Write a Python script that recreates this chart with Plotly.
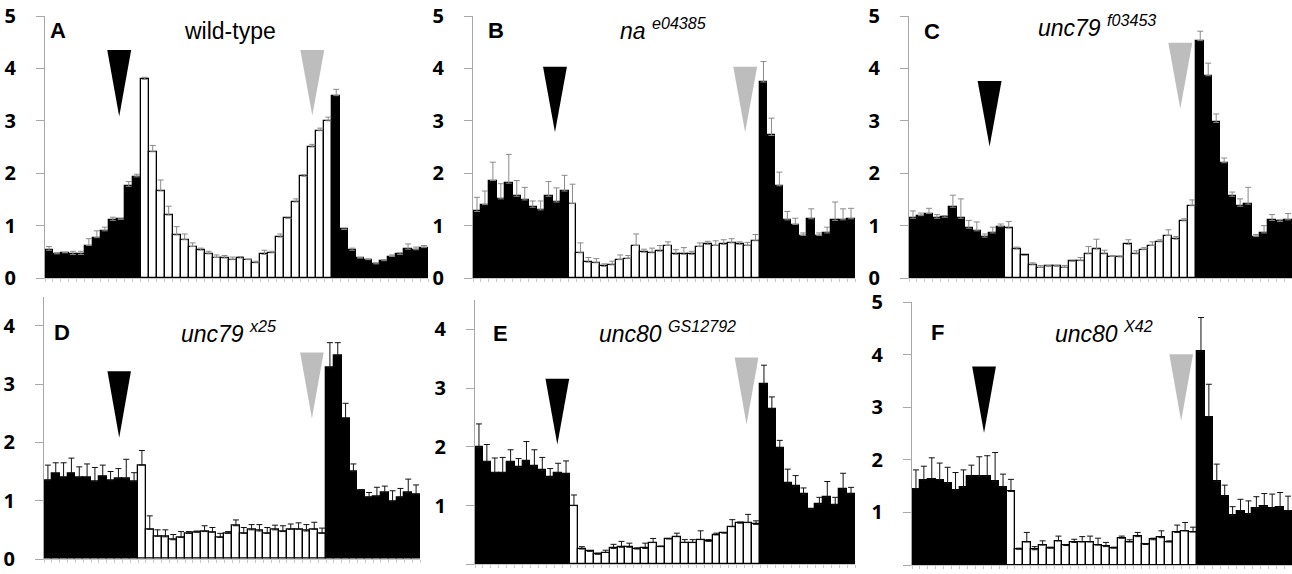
import plotly.graph_objects as go

W, H = 1292, 574

bins = list(range(1, 49))
phase = ["dark"] * 12 + ["light"] * 24 + ["dark"] * 12

panel_letters = ["A", "B", "C", "D", "E", "F"]
panel_titles = [
    "wild-type",
    "<i>na</i> <sup><i>e04385</i></sup>",
    "<i>unc79</i> <sup><i>f03453</i></sup>",
    "<i>unc79</i> <sup><i>x25</i></sup>",
    "<i>unc80</i> <sup><i>GS12792</i></sup>",
    "<i>unc80</i> <sup><i>X42</i></sup>",
]

vals_A = [0.53, 0.46, 0.48, 0.45, 0.45, 0.62, 0.77, 0.90, 1.10, 1.12, 1.75, 1.93,
          3.79, 2.41, 1.66, 1.20, 0.82, 0.73, 0.60, 0.53, 0.46, 0.39, 0.38, 0.35,
          0.38, 0.35, 0.29, 0.45, 0.48, 0.78, 1.14, 1.45, 1.94, 2.50, 2.81, 3.00,
          3.48, 0.93, 0.53, 0.38, 0.35, 0.27, 0.33, 0.41, 0.45, 0.55, 0.54, 0.58]
err_A = [0.07, 0.02, 0.01, 0.06, 0.06, 0.13, 0.13, 0.07, 0.06, 0.01, 0.09, 0.05,
         0.04, 0.12, 0.21, 0.17, 0.16, 0.11, 0.07, 0.04, 0.05, 0.05, 0.05, 0.05,
         0.03, 0.01, 0.03, 0.08, 0.03, 0.06, 0.00, 0.06, 0.03, 0.05, 0.05, 0.07,
         0.12, 0.00, 0.04, 0.01, 0.01, 0.02, 0.02, 0.03, 0.03, 0.10, 0.05, 0.04]

vals_B = [1.27, 1.40, 1.86, 1.51, 1.81, 1.56, 1.49, 1.35, 1.30, 1.56, 1.45, 1.66,
          1.42, 0.48, 0.30, 0.29, 0.22, 0.25, 0.35, 0.37, 0.62, 0.49, 0.48, 0.51,
          0.62, 0.45, 0.45, 0.45, 0.60, 0.64, 0.62, 0.64, 0.67, 0.64, 0.62, 0.71,
          3.74, 2.72, 1.76, 1.11, 1.02, 0.81, 1.13, 0.81, 0.86, 1.10, 1.11, 1.13]
err_B = [0.27, 0.26, 0.35, 0.29, 0.55, 0.30, 0.24, 0.12, 0.17, 0.28, 0.27, 0.30,
         0.37, 0.19, 0.09, 0.08, 0.05, 0.07, 0.09, 0.06, 0.22, 0.06, 0.09, 0.11,
         0.07, 0.09, 0.13, 0.06, 0.07, 0.06, 0.09, 0.09, 0.08, 0.05, 0.06, 0.12,
         0.39, 0.33, 0.26, 0.16, 0.12, 0.05, 0.19, 0.05, 0.11, 0.35, 0.21, 0.20]

vals_C = [1.14, 1.19, 1.23, 1.14, 1.16, 1.35, 1.14, 0.95, 0.90, 0.78, 0.86, 0.98,
          0.95, 0.55, 0.43, 0.25, 0.20, 0.22, 0.22, 0.20, 0.32, 0.33, 0.46, 0.55,
          0.46, 0.41, 0.40, 0.64, 0.46, 0.54, 0.62, 0.69, 0.81, 0.74, 1.09, 1.38,
          4.53, 3.86, 2.97, 2.20, 1.56, 1.37, 1.41, 0.79, 0.86, 1.10, 1.08, 1.11]
err_C = [0.14, 0.05, 0.10, 0.07, 0.03, 0.23, 0.37, 0.15, 0.17, 0.06, 0.11, 0.05,
         0.13, 0.04, 0.00, 0.04, 0.04, 0.02, 0.02, 0.04, 0.00, 0.06, 0.14, 0.19,
         0.07, 0.02, 0.02, 0.09, 0.06, 0.04, 0.07, 0.04, 0.11, 0.05, 0.04, 0.11,
         0.18, 0.24, 0.16, 0.09, 0.08, 0.14, 0.32, 0.04, 0.14, 0.11, 0.03, 0.12]

vals_D = [1.35, 1.46, 1.39, 1.47, 1.39, 1.39, 1.33, 1.42, 1.34, 1.38, 1.38, 1.33,
          1.61, 0.51, 0.39, 0.38, 0.33, 0.37, 0.44, 0.46, 0.47, 0.46, 0.37, 0.44,
          0.57, 0.44, 0.50, 0.48, 0.44, 0.50, 0.47, 0.51, 0.51, 0.48, 0.51, 0.44,
          3.28, 3.48, 2.40, 1.50, 1.17, 1.06, 1.07, 1.14, 0.99, 1.06, 1.14, 1.11]
err_D = [0.26, 0.19, 0.26, 0.26, 0.19, 0.24, 0.24, 0.19, 0.16, 0.17, 0.33, 0.15,
         0.25, 0.23, 0.11, 0.12, 0.09, 0.10, 0.03, 0.02, 0.10, 0.08, 0.07, 0.03,
         0.10, 0.10, 0.09, 0.11, 0.10, 0.08, 0.10, 0.09, 0.11, 0.11, 0.12, 0.09,
         0.43, 0.23, 0.27, 0.13, 0.02, 0.08, 0.16, 0.11, 0.18, 0.15, 0.23, 0.16]

vals_E = [1.99, 1.75, 1.56, 1.56, 1.75, 1.65, 1.76, 1.67, 1.60, 1.48, 1.56, 1.54,
          1.00, 0.26, 0.22, 0.17, 0.20, 0.27, 0.29, 0.29, 0.26, 0.27, 0.37, 0.30,
          0.43, 0.47, 0.37, 0.37, 0.42, 0.39, 0.50, 0.53, 0.64, 0.70, 0.71, 0.68,
          3.07, 2.65, 1.98, 1.38, 1.33, 1.19, 0.94, 1.02, 1.14, 1.01, 1.28, 1.20]
err_E = [0.40, 0.29, 0.25, 0.26, 0.20, 0.15, 0.33, 0.28, 0.22, 0.15, 0.16, 0.22,
         0.18, 0.04, 0.01, 0.02, 0.04, 0.07, 0.10, 0.07, 0.02, 0.09, 0.07, 0.01,
         0.01, 0.06, 0.05, 0.05, 0.15, 0.03, 0.03, 0.01, 0.12, 0.02, 0.14, 0.06,
         0.32, 0.20, 0.13, 0.24, 0.18, 0.11, 0.00, 0.12, 0.27, 0.13, 0.27, 0.11]

vals_F = [1.45, 1.62, 1.64, 1.62, 1.55, 1.42, 1.48, 1.68, 1.68, 1.68, 1.59, 1.47,
          1.40, 0.30, 0.44, 0.29, 0.38, 0.32, 0.46, 0.37, 0.43, 0.44, 0.44, 0.38,
          0.35, 0.32, 0.51, 0.44, 0.54, 0.39, 0.48, 0.52, 0.44, 0.62, 0.65, 0.63,
          4.06, 2.82, 1.59, 1.31, 0.94, 1.03, 0.96, 1.08, 1.11, 1.07, 1.09, 1.03]
err_F = [0.36, 0.26, 0.40, 0.32, 0.31, 0.34, 0.33, 0.22, 0.38, 0.40, 0.55, 0.26,
         0.23, 0.02, 0.18, 0.06, 0.08, 0.02, 0.09, 0.01, 0.06, 0.10, 0.11, 0.13,
         0.08, 0.02, 0.04, 0.04, 0.08, 0.02, 0.03, 0.13, 0.02, 0.14, 0.16, 0.09,
         0.65, 0.62, 0.33, 0.21, 0.17, 0.22, 0.26, 0.22, 0.25, 0.28, 0.29, 0.28]

values = [vals_A, vals_B, vals_C, vals_D, vals_E, vals_F]
errors = [err_A, err_B, err_C, err_D, err_E, err_F]

# arrowheads: (bin centre, top value, tip value) for lights-on (black) and lights-off (grey)
black_arrow = [(9.8, 4.35, 3.08), (10.8, 4.03, 2.78), (10.6, 3.76, 2.51),
               (10.1, 3.22, 2.08), (10.9, 3.16, 2.04), (9.6, 3.78, 2.51)]
grey_arrow = [(34.0, 4.35, 3.10), (34.7, 4.03, 2.78), (34.5, 4.49, 3.23),
              (34.7, 3.54, 2.41), (34.8, 3.52, 2.38), (34.5, 4.01, 2.74)]

y_max = [5, 5, 5, 4.5, 4.5, 5]
y_ticks = [[0, 1, 2, 3, 4, 5]] * 3 + [[0, 1, 2, 3, 4]] * 2 + [[0, 1, 2, 3, 4, 5]]

# plot-area pixel boxes (left, right, top-of-range, zero line)
boxes = [(45, 428, 16, 278), (473, 855, 16, 278), (909, 1292, 16, 278),
         (44, 420, 296.6, 559), (475, 855, 300, 564.3), (912, 1292, 302.3, 565)]
letter_pos = [(58, 30), (496, 30), (932, 31), (62, 332), (500, 333), (937, 332)]
title_pos = [(230, 31), (663, 29), (1097, 26), (228, 332), (667, 332), (1104, 332)]
err_color = ["#8a8a8a", "#8a8a8a", "#8a8a8a", "#111111", "#111111", "#111111"]

fig = go.Figure()
shapes = []
annotations = []
layout_axes = {}

for i in range(6):
    n = "" if i == 0 else str(i + 1)
    xa, ya = "x" + n, "y" + n
    l, r, t, b = boxes[i]
    colors = ["black" if p == "dark" else "white" for p in phase]
    fig.add_trace(go.Bar(
        x=bins, y=values[i], xaxis=xa, yaxis=ya,
        marker=dict(color=colors, line=dict(color="black", width=1.3)),
        error_y=dict(type="data", array=errors[i], arrayminus=[0] * 48,
                     symmetric=False, color=err_color[i], thickness=1, width=3),
        showlegend=False, hoverinfo="x+y",
    ))
    layout_axes["xaxis" + n] = dict(
        domain=[l / W, min(r / W, 1.0)], range=[0.5, 48.5], anchor=ya,
        showgrid=False, zeroline=False, showline=True, linecolor="#c8c8c8", linewidth=1,
        ticks="outside", ticklen=3, tickcolor="#c8c8c8", automargin=False,
        tickvals=[k + 0.5 for k in range(0, 49)], showticklabels=False, fixedrange=True,
    )
    layout_axes["yaxis" + n] = dict(
        domain=[1 - b / H, 1 - t / H], range=[0, y_max[i]], anchor=xa,
        showgrid=False, zeroline=False, showline=True, linecolor="#a8a8a8", linewidth=1,
        ticks="outside", ticklen=8, tickcolor="#a8a8a8", automargin=False,
        tickvals=y_ticks[i], ticktext=[f"<b>{v}</b>" for v in y_ticks[i]],
        ticklabelstandoff=16,
        tickfont=dict(family="Open Sans", size=20, color="black"),
        fixedrange=True,
    )
    for (cx, top, tip), col in ((black_arrow[i], "black"), (grey_arrow[i], "#bdbdbd")):
        shapes.append(dict(
            type="path", xref=xa, yref=ya,
            path=f"M {cx - 1.5},{top} L {cx + 1.5},{top} L {cx},{tip} Z",
            fillcolor=col, line=dict(width=0), layer="above",
        ))
    lx, ly = letter_pos[i]
    annotations.append(dict(
        x=lx / W, y=1 - ly / H, xref="paper", yref="paper",
        text=f"<b>{panel_letters[i]}</b>",
        showarrow=False, xanchor="center", yanchor="middle",
        font=dict(family="Liberation Sans", size=22, color="black"),
    ))
    tx, ty = title_pos[i]
    annotations.append(dict(
        x=tx / W, y=1 - ty / H, xref="paper", yref="paper", text=panel_titles[i],
        showarrow=False, xanchor="center", yanchor="middle",
        font=dict(family="Liberation Sans", size=23, color="black"),
    ))

fig.update_layout(
    width=W, height=H, margin=dict(l=0, r=0, t=0, b=0, autoexpand=False),
    paper_bgcolor="white", plot_bgcolor="white",
    bargap=0, shapes=shapes, annotations=annotations,
    **layout_axes,
)

fig.write_html(
    "out.html",
    config={"displayModeBar": False},
    post_script="document.body.style.margin='0';document.body.style.overflow='hidden';",
)
